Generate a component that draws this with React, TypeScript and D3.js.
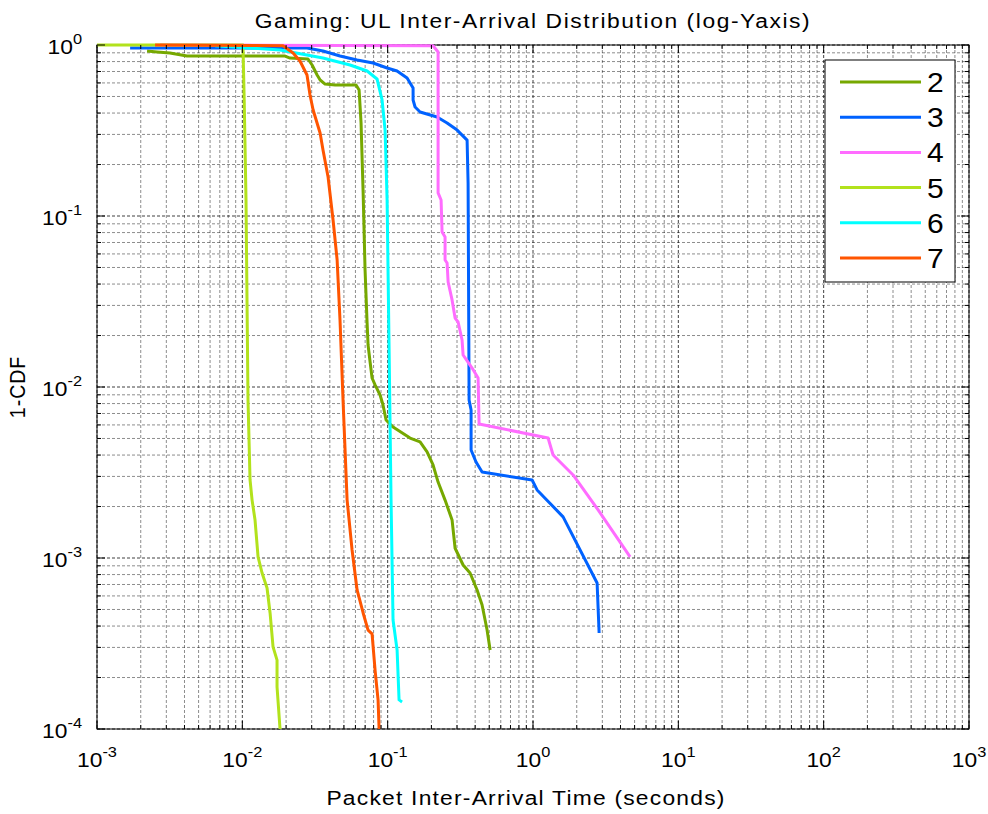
import React from "react";
import * as d3 from "d3";

// Inter-arrival time (s) and 1-CDF samples for each gaming trace
const series2X = [0.00221, 0.00259, 0.00318, 0.00416, 0.01968, 0.0213, 0.0283, 0.0302, 0.0327, 0.0343, 0.0371, 0.0435, 0.0606, 0.0636, 0.0656, 0.0678, 0.0699, 0.0722, 0.0733, 0.0757, 0.0781, 0.0819, 0.0887, 0.0929, 0.0975, 0.1089, 0.1426, 0.1671, 0.1867, 0.2053, 0.2223, 0.2483, 0.2774, 0.2911, 0.3305, 0.369, 0.4124, 0.4464, 0.4831, 0.507];
const series2Y = [0.922, 0.91, 0.898, 0.862, 0.862, 0.839, 0.828, 0.764, 0.668, 0.624, 0.591, 0.584, 0.584, 0.545, 0.35, 0.1364, 0.0483, 0.02366, 0.0176, 0.014, 0.01129, 0.01028, 0.00898, 0.00785, 0.00641, 0.00583, 0.00503, 0.00477, 0.00417, 0.0035, 0.00278, 0.00218, 0.00167, 0.00114, 0.00091, 0.000817, 0.00065, 0.000531, 0.000379, 0.00029];

const series3X = [0.00169, 0.0279, 0.0359, 0.047, 0.0616, 0.0794, 0.0991, 0.1161, 0.136, 0.1496, 0.1496, 0.1544, 0.1671, 0.2188, 0.2564, 0.3006, 0.352, 0.3576, 0.3633, 0.375, 0.375, 0.4055, 0.4464, 0.9858, 1.067, 1.611, 2.761, 2.851];
const series3Y = [0.96, 0.96, 0.922, 0.862, 0.817, 0.785, 0.734, 0.705, 0.641, 0.56, 0.477, 0.434, 0.406, 0.379, 0.35, 0.318, 0.278, 0.156, 0.0084, 0.00734, 0.00428, 0.00364, 0.00318, 0.00286, 0.0025, 0.00174, 0.000714, 0.000364];

const series4X = [0.00272, 0.2053, 0.2223, 0.2223, 0.2331, 0.2368, 0.2483, 0.2483, 0.2564, 0.2606, 0.2774, 0.2911, 0.3052, 0.325, 0.3305, 0.341, 0.381, 0.419, 0.4256, 1.27, 1.375, 1.888, 2.805, 4.656];
const series4Y = [1, 0.99, 0.91, 0.1364, 0.124, 0.0806, 0.0754, 0.0553, 0.0531, 0.0411, 0.0323, 0.0253, 0.024, 0.01883, 0.01538, 0.01479, 0.01291, 0.01129, 0.00608, 0.00503, 0.004, 0.00306, 0.00191, 0.001014];

const series5X = [0.001, 0.0101, 0.0103, 0.0106, 0.01094, 0.0113, 0.01167, 0.01223, 0.01283, 0.01367, 0.01479, 0.01552, 0.01627, 0.01733, 0.01733, 0.01817];
const series5Y = [1, 1, 0.477, 0.124, 0.0084, 0.00286, 0.00218, 0.001668, 0.001014, 0.000817, 0.000668, 0.000477, 0.000302, 0.000253, 0.000176, 0.0001];

const series6X = [0.00649, 0.01817, 0.0359, 0.0551, 0.0722, 0.0845, 0.0915, 0.096, 0.0991, 0.1023, 0.1055, 0.1089, 0.1161, 0.1198, 0.1256];
const series6Y = [0.99, 0.935, 0.839, 0.764, 0.705, 0.633, 0.477, 0.318, 0.124, 0.01645, 0.00218, 0.000434, 0.00029, 0.000148, 0.000144];

const series7X = [0.00251, 0.01905, 0.02234, 0.02493, 0.02786, 0.02922, 0.0307, 0.03428, 0.0359, 0.0389, 0.0421, 0.0449, 0.047, 0.0493, 0.0526, 0.0569, 0.0616, 0.0678, 0.0733, 0.0781, 0.0819, 0.0859, 0.0873];
const series7Y = [1, 0.99, 0.898, 0.806, 0.668, 0.51, 0.417, 0.3058, 0.2432, 0.169, 0.0948, 0.0553, 0.02465, 0.0084, 0.00218, 0.001114, 0.00065, 0.000477, 0.000379, 0.00036, 0.000221, 0.000148, 0.0001];

const seriesNames = ["2", "3", "4", "5", "6", "7"];
const seriesColors = ["#76a800", "#0062ff", "#ff6cff", "#b2e21c", "#00ffff", "#ff5500"];
const seriesXs = [series2X, series3X, series4X, series5X, series6X, series7X];
const seriesYs = [series2Y, series3Y, series4Y, series5Y, series6Y, series7Y];

const xDecades = [-3, -2, -1, 0, 1, 2, 3];
const yDecades = [-4, -3, -2, -1, 0];

const titleText = "Gaming: UL Inter-Arrival Distribution (log-Yaxis)";
const xLabelText = "Packet Inter-Arrival Time (seconds)";
const yLabelText = "1-CDF";

const W = 988;
const H = 814;
const left = 97;
const right = 969;
const top = 45;
const bottom = 729;
const SX = 1.17; // horizontal stretch of the lettering
const FONT = "'Liberation Sans', Arial, Helvetica, sans-serif";

function minorValues(lo: number, hi: number): { v: number; major: boolean }[] {
  const out: { v: number; major: boolean }[] = [];
  for (let k = lo; k < hi; k++) {
    for (let m = 1; m <= 9; m++) out.push({ v: m * Math.pow(10, k), major: m === 1 });
  }
  out.push({ v: Math.pow(10, hi), major: true });
  return out;
}

export default function App() {
  const x = d3.scaleLog().domain([1e-3, 1e3]).range([left, right]);
  const y = d3.scaleLog().domain([1e-4, 1]).range([bottom, top]);
  const line = d3
    .line<[number, number]>()
    .x((d) => x(d[0]))
    .y((d) => y(d[1]));

  const xGrid = minorValues(-3, 3);
  const yGrid = minorValues(-4, 0);

  const legendX = 825;
  const legendY = 60;
  const legendW = 130;
  const legendH = 222;
  const rowH = 35.2;

  return (
    <svg
      width={W}
      height={H}
      style={{ position: "absolute", left: 0, top: 0, background: "#fff" }}
      fontFamily={FONT}
    >
      <rect x={0} y={0} width={W} height={H} fill="#fff" />

      {/* grid */}
      <g fill="none" strokeWidth={1} strokeDasharray="3,2">
        {xGrid.map((g, i) => (
          <line
            key={"gx" + i}
            x1={x(g.v)}
            x2={x(g.v)}
            y1={top}
            y2={bottom}
            stroke="#000"
            strokeOpacity={g.major ? 0.75 : 0.45}
          />
        ))}
        {yGrid.map((g, i) => (
          <line
            key={"gy" + i}
            x1={left}
            x2={right}
            y1={y(g.v)}
            y2={y(g.v)}
            stroke="#000"
            strokeOpacity={g.major ? 0.75 : 0.45}
          />
        ))}
      </g>

      <rect x={left} y={top} width={right - left} height={bottom - top} fill="none" stroke="#000" strokeWidth={1} />

      {/* data */}
      <g fill="none" strokeWidth={3} strokeLinejoin="round">
        {seriesXs.map((xs, si) => {
          const pts = xs.map((v, i) => [v, seriesYs[si][i]] as [number, number]);
          return <path key={"s" + si} d={line(pts) || ""} stroke={seriesColors[si]} />;
        })}
      </g>

      {/* ticks */}
      <g stroke="#000" strokeWidth={1}>
        {xGrid.map((g, i) => {
          const len = g.major ? 8 : 4;
          const px = x(g.v);
          return (
            <g key={"tx" + i}>
              <line x1={px} x2={px} y1={bottom} y2={bottom - len} />
              <line x1={px} x2={px} y1={top} y2={top + len} />
            </g>
          );
        })}
        {yGrid.map((g, i) => {
          const len = g.major ? 8 : 4;
          const py = y(g.v);
          return (
            <g key={"ty" + i}>
              <line x1={left} x2={left + len} y1={py} y2={py} />
              <line x1={right} x2={right - len} y1={py} y2={py} />
            </g>
          );
        })}
      </g>

      {/* x tick labels */}
      {xDecades.map((k) => (
        <g key={"xl" + k} transform={`translate(${x(Math.pow(10, k))},${bottom + 38}) scale(${SX},1)`}>
          <text textAnchor="middle" fontSize={19.5} fill="#000">
            10
            <tspan fontSize={14} dy={-10}>
              {String(k)}
            </tspan>
          </text>
        </g>
      ))}

      {/* y tick labels */}
      {yDecades.map((k) => (
        <g key={"yl" + k} transform={`translate(${left - 15},${y(Math.pow(10, k)) + 9}) scale(${SX},1)`}>
          <text textAnchor="end" fontSize={19.5} fill="#000">
            10
            <tspan fontSize={14} dy={-10}>
              {String(k)}
            </tspan>
          </text>
        </g>
      ))}

      {/* title and axis labels */}
      <g transform={`translate(${(left + right) / 2},28) scale(${SX},1)`}>
        <text textAnchor="middle" fontSize={19.5} letterSpacing={1.35} fill="#000">
          {titleText}
        </text>
      </g>
      <g transform={`translate(${(left + right) / 2 - 7},805) scale(${SX},1)`}>
        <text textAnchor="middle" fontSize={19.5} letterSpacing={1.05} fill="#000">
          {xLabelText}
        </text>
      </g>
      <g transform={`translate(25,${(top + bottom) / 2}) scale(${SX},1) rotate(-90)`}>
        <text textAnchor="middle" fontSize={19.5} letterSpacing={1} fill="#000">
          {yLabelText}
        </text>
      </g>

      {/* legend */}
      <rect x={legendX} y={legendY} width={legendW} height={legendH} fill="#fff" stroke="#000" strokeWidth={1} />
      {seriesNames.map((name, i) => {
        const ry = legendY + 22 + i * rowH;
        return (
          <g key={"lg" + i}>
            <line x1={legendX + 15} x2={legendX + 96} y1={ry} y2={ry} stroke={seriesColors[i]} strokeWidth={3} />
            <g transform={`translate(${legendX + 102},${ry + 10}) scale(${SX * 0.95},1)`}>
              <text fontSize={27} fill="#000">
                {name}
              </text>
            </g>
          </g>
        );
      })}
    </svg>
  );
}
